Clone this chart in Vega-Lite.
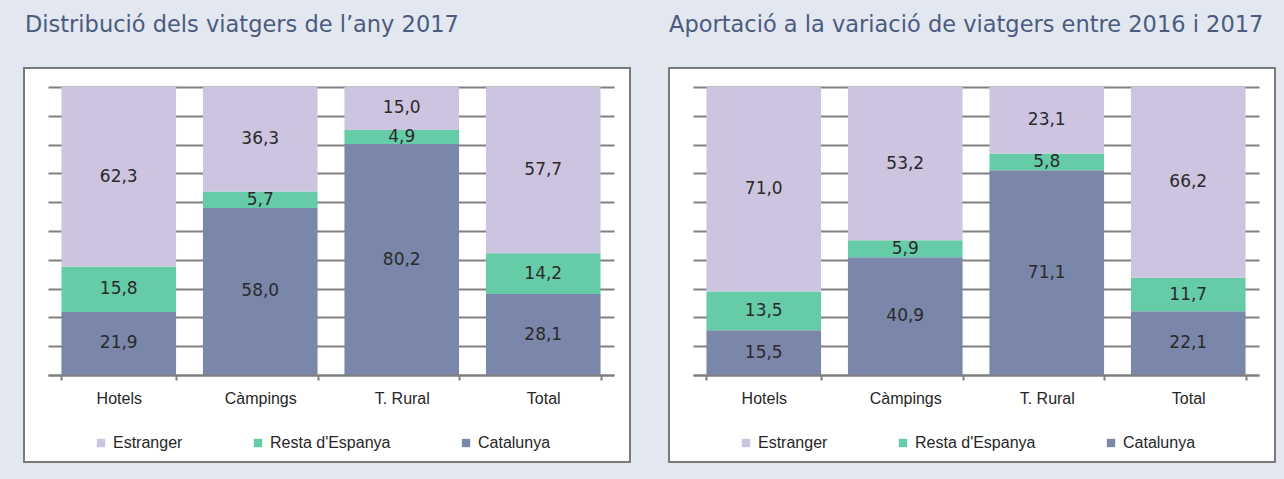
{
  "$schema": "https://vega.github.io/schema/vega-lite/v6.json",
  "background": "#E3E7EF",
  "padding": {"left": 23, "top": 13, "right": 10, "bottom": 18},
  "config": {
    "locale": {"number": {"decimal": ",", "thousands": ".", "grouping": [3], "currency": ["", " €"]}},
    "view": {"stroke": "#7A7A7A", "strokeWidth": 2, "fill": "white"},
    "font": "Liberation Sans"
  },
  "datasets": {
    "dist": [
      {"cat": "Hotels", "origin": "Catalunya", "value": 21.9},
      {"cat": "Hotels", "origin": "Resta d'Espanya", "value": 15.8},
      {"cat": "Hotels", "origin": "Estranger", "value": 62.3},
      {"cat": "Càmpings", "origin": "Catalunya", "value": 58.0},
      {"cat": "Càmpings", "origin": "Resta d'Espanya", "value": 5.7},
      {"cat": "Càmpings", "origin": "Estranger", "value": 36.3},
      {"cat": "T. Rural", "origin": "Catalunya", "value": 80.2},
      {"cat": "T. Rural", "origin": "Resta d'Espanya", "value": 4.9},
      {"cat": "T. Rural", "origin": "Estranger", "value": 15.0},
      {"cat": "Total", "origin": "Catalunya", "value": 28.1},
      {"cat": "Total", "origin": "Resta d'Espanya", "value": 14.2},
      {"cat": "Total", "origin": "Estranger", "value": 57.7}
    ],
    "var": [
      {"cat": "Hotels", "origin": "Catalunya", "value": 15.5},
      {"cat": "Hotels", "origin": "Resta d'Espanya", "value": 13.5},
      {"cat": "Hotels", "origin": "Estranger", "value": 71.0},
      {"cat": "Càmpings", "origin": "Catalunya", "value": 40.9},
      {"cat": "Càmpings", "origin": "Resta d'Espanya", "value": 5.9},
      {"cat": "Càmpings", "origin": "Estranger", "value": 53.2},
      {"cat": "T. Rural", "origin": "Catalunya", "value": 71.1},
      {"cat": "T. Rural", "origin": "Resta d'Espanya", "value": 5.8},
      {"cat": "T. Rural", "origin": "Estranger", "value": 23.1},
      {"cat": "Total", "origin": "Catalunya", "value": 22.1},
      {"cat": "Total", "origin": "Resta d'Espanya", "value": 11.7},
      {"cat": "Total", "origin": "Estranger", "value": 66.2}
    ]
  },
  "spacing": 37,
  "resolve": {"legend": {"color": "independent"}},
  "hconcat": [
    {
      "width": 606,
      "height": 394,
      "title": {"text": "Distribució dels viatgers de l’any 2017", "anchor": "start", "frame": "group", "offset": 31.5, "fontSize": 22.5, "fontWeight": "normal", "color": "#4B5B80", "font": "DejaVu Sans", "dx": 1},
      "data": {"name": "dist"},
      "transform": [
        {"calculate": "indexof(['Catalunya', 'Resta d\\'Espanya', 'Estranger'], datum.origin)", "as": "ord"},
        {"stack": "value", "groupby": ["cat"], "sort": [{"field": "ord", "order": "ascending"}], "as": ["y0", "y1"], "offset": "zero"},
        {"calculate": "(datum.y0 + datum.y1) / 2", "as": "ymid"}
      ],
      "layer": [
        {
          "mark": {"type": "bar"},
          "encoding": {
            "x": {"field": "cat", "type": "nominal", "sort": null,
              "scale": {"range": [24, 590], "paddingInner": 0.19, "paddingOuter": 0.095},
              "axis": {"orient": "bottom", "offset": -87, "title": null, "tickBand": "extent", "domainColor": "#7F7F7F", "domainWidth": 2, "tickColor": "#7F7F7F", "tickWidth": 2, "tickSize": 5, "labelFontSize": 16, "labelColor": "#262626", "labelPadding": 10, "labelAngle": 0, "zindex": 1}},
            "y": {"field": "y0", "type": "quantitative",
              "scale": {"domain": [0, 100], "range": [307, 19], "nice": false},
              "axis": {"orient": "left", "values": [0, 10, 20, 30, 40, 50, 60, 70, 80, 90, 100], "tickCount": 20, "labels": false, "domain": false, "grid": false, "ticks": true, "tickSize": -566, "offset": -24, "tickColor": "#808080", "tickWidth": 2, "title": null, "zindex": 0}},
            "y2": {"field": "y1"},
            "color": {"field": "origin", "type": "nominal",
              "scale": {"domain": ["Estranger", "Resta d'Espanya", "Catalunya"], "range": ["#CDC4E0", "#66CCA8", "#7A86AA"]},
              "legend": {"orient": "none", "legendX": 69, "legendY": 367, "direction": "horizontal", "title": null, "symbolType": "square", "symbolSize": 70, "symbolStrokeWidth": 0, "labelFontSize": 16, "labelColor": "#262626", "columnPadding": 67, "labelOffset": 4}}
          }
        },
        {
          "mark": {"type": "text", "fontSize": 17, "color": "#2A2A2A", "font": "DejaVu Sans"},
          "encoding": {
            "x": {"field": "cat", "type": "nominal", "sort": null},
            "y": {"field": "ymid", "type": "quantitative"},
            "text": {"field": "value", "type": "quantitative", "format": ".1f"}
          }
        }
      ]
    },
    {
      "width": 606,
      "height": 394,
      "title": {"text": "Aportació a la variació de viatgers entre 2016 i 2017", "anchor": "start", "frame": "group", "offset": 31.5, "fontSize": 22.5, "fontWeight": "normal", "color": "#4B5B80", "font": "DejaVu Sans", "dx": 0},
      "data": {"name": "var"},
      "transform": [
        {"calculate": "indexof(['Catalunya', 'Resta d\\'Espanya', 'Estranger'], datum.origin)", "as": "ord"},
        {"stack": "value", "groupby": ["cat"], "sort": [{"field": "ord", "order": "ascending"}], "as": ["y0", "y1"], "offset": "zero"},
        {"calculate": "(datum.y0 + datum.y1) / 2", "as": "ymid"}
      ],
      "layer": [
        {
          "mark": {"type": "bar"},
          "encoding": {
            "x": {"field": "cat", "type": "nominal", "sort": null,
              "scale": {"range": [24, 590], "paddingInner": 0.19, "paddingOuter": 0.095},
              "axis": {"orient": "bottom", "offset": -87, "title": null, "tickBand": "extent", "domainColor": "#7F7F7F", "domainWidth": 2, "tickColor": "#7F7F7F", "tickWidth": 2, "tickSize": 5, "labelFontSize": 16, "labelColor": "#262626", "labelPadding": 10, "labelAngle": 0, "zindex": 1}},
            "y": {"field": "y0", "type": "quantitative",
              "scale": {"domain": [0, 100], "range": [307, 19], "nice": false},
              "axis": {"orient": "left", "values": [0, 10, 20, 30, 40, 50, 60, 70, 80, 90, 100], "tickCount": 20, "labels": false, "domain": false, "grid": false, "ticks": true, "tickSize": -566, "offset": -24, "tickColor": "#808080", "tickWidth": 2, "title": null, "zindex": 0}},
            "y2": {"field": "y1"},
            "color": {"field": "origin", "type": "nominal",
              "scale": {"domain": ["Estranger", "Resta d'Espanya", "Catalunya"], "range": ["#CDC4E0", "#66CCA8", "#7A86AA"]},
              "legend": {"orient": "none", "legendX": 69, "legendY": 367, "direction": "horizontal", "title": null, "symbolType": "square", "symbolSize": 70, "symbolStrokeWidth": 0, "labelFontSize": 16, "labelColor": "#262626", "columnPadding": 67, "labelOffset": 4}}
          }
        },
        {
          "mark": {"type": "text", "fontSize": 17, "color": "#2A2A2A", "font": "DejaVu Sans"},
          "encoding": {
            "x": {"field": "cat", "type": "nominal", "sort": null},
            "y": {"field": "ymid", "type": "quantitative"},
            "text": {"field": "value", "type": "quantitative", "format": ".1f"}
          }
        }
      ]
    }
  ]
}
